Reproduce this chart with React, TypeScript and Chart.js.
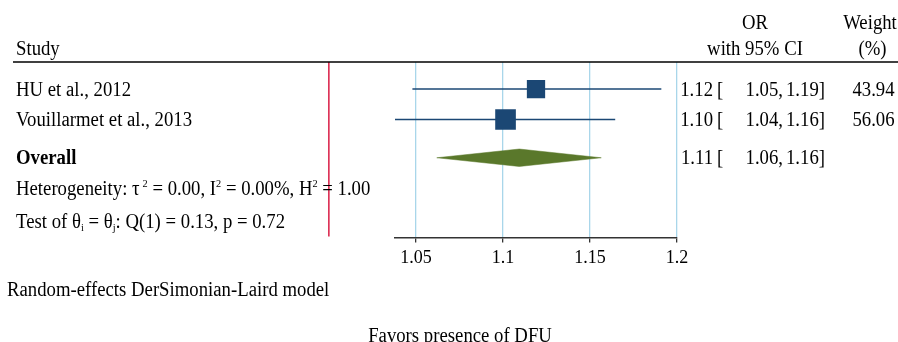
import React, { useEffect, useRef } from "react";
import { Chart, registerables } from "chart.js";

Chart.register(...registerables);

// ---------- data ----------
const studyLabels = ["HU et al., 2012", "Vouillarmet et al., 2013"];
const studyEstimates = [1.119, 1.1015];
const studyLower = [1.048, 1.038];
const studyUpper = [1.191, 1.1645];
const studyWeights = [43.94, 56.06];

const overallLabel = "Overall";
const overallEstimate = 1.1094;
const overallLower = 1.062;
const overallUpper = 1.1565;

const xTickValues = [1.05, 1.1, 1.15, 1.2];
const xAxisMin = 1.038;
const xAxisMax = 1.2;
const nullValue = 1;

const headerStudy = "Study";
const headerOR = ["OR", "with 95% CI"];
const headerWeight = ["Weight", "(%)"];
const modelNote = "Random-effects DerSimonian-Laird model";
const axisTitle = "Favors presence of DFU";

type Seg = { t: string; sup?: boolean; sub?: boolean; gap?: number };
const heterogeneitySegments: Seg[] = [
  { t: "Heterogeneity: τ" },
  { t: "2", sup: true, gap: 3 },
  { t: " = 0.00, I" },
  { t: "2", sup: true },
  { t: " = 0.00%, H" },
  { t: "2", sup: true },
  { t: " = 1.00" },
];
const testSegments: Seg[] = [
  { t: "Test of θ" },
  { t: "i", sub: true },
  { t: " = θ" },
  { t: "j", sub: true },
  { t: ": Q(1) = 0.13, p = 0.72" },
];

// ---------- layout / style ----------
const studyRows = [1, 2];
const overallRow = 3.26;
const hetRow = 4.27;
const testRow = 5.36;
const yMin = 0.11;
const yMax = 5.88;
const diamondHalf = 0.287;

const NAVY = "#1b4774";
const GREEN = "#5a782b";
const RED = "#dc2a50";
const GRID = "#a9d6ea";
const FONT = "'Liberation Serif', 'Times New Roman', serif";
const FS = 20;
const SX = 0.937;

function drawText(
  ctx: CanvasRenderingContext2D,
  text: string,
  x: number,
  y: number,
  align: "left" | "right" | "center" = "left",
  bold = false,
  size = FS
) {
  ctx.font = `${bold ? "bold " : ""}${size}px ${FONT}`;
  const w = ctx.measureText(text).width * SX;
  let left = x;
  if (align === "right") left = x - w;
  else if (align === "center") left = x - w / 2;
  ctx.save();
  ctx.translate(left, y);
  ctx.scale(SX, 1);
  ctx.textAlign = "left";
  ctx.textBaseline = "alphabetic";
  ctx.fillText(text, 0, 0);
  ctx.restore();
  return w;
}

function drawRich(ctx: CanvasRenderingContext2D, segs: Seg[], x: number, y: number) {
  let cx = x;
  for (const s of segs) {
    cx += s.gap || 0;
    if (s.sup) cx += drawText(ctx, s.t, cx, y - 8.3, "left", false, 11);
    else if (s.sub) cx += drawText(ctx, s.t, cx, y + 2.5, "left", false, 11);
    else cx += drawText(ctx, s.t, cx, y, "left", false, FS);
  }
}

const forestPlugin = {
  id: "forestDecor",
  beforeDatasetsDraw(chart: any) {
    const { ctx, chartArea, scales } = chart;
    const x = scales.x;
    const nx = x.getPixelForValue(nullValue);
    ctx.save();
    ctx.strokeStyle = RED;
    ctx.lineWidth = 1.6;
    ctx.beginPath();
    ctx.moveTo(nx, chartArea.top);
    ctx.lineTo(nx, chartArea.bottom - 1);
    ctx.stroke();
    ctx.strokeStyle = "#000";
    ctx.lineWidth = 1.6;
    ctx.beginPath();
    ctx.moveTo(13, chartArea.top);
    ctx.lineTo(chart.width, chartArea.top);
    ctx.stroke();
    ctx.restore();
  },
  afterDraw(chart: any) {
    const { ctx, chartArea, scales } = chart;
    const y = scales.y;
    const base = (r: number) => y.getPixelForValue(r) + 6.7;
    const top = chartArea.top;
    ctx.save();
    ctx.fillStyle = "#000";
    // headers
    drawText(ctx, headerStudy, 16, top - 7);
    drawText(ctx, headerOR[0], 755, top - 33, "center");
    drawText(ctx, headerOR[1], 755, top - 7, "center");
    drawText(ctx, headerWeight[0], 870, top - 33, "center");
    drawText(ctx, headerWeight[1], 872.5, top - 7, "center");

    const orCols = (est: number, lo: number, hi: number, by: number) => {
      drawText(ctx, est.toFixed(2), 713, by, "right");
      drawText(ctx, "[", 717, by, "left");
      drawText(ctx, lo.toFixed(2) + ",", 783, by, "right");
      drawText(ctx, hi.toFixed(2) + "]", 825, by, "right");
    };

    studyLabels.forEach((lab, i) => {
      const by = base(studyRows[i]);
      drawText(ctx, lab, 16, by);
      orCols(studyEstimates[i], studyLower[i], studyUpper[i], by);
      drawText(ctx, studyWeights[i].toFixed(2), 873.5, by, "center");
    });

    const ob = base(overallRow);
    drawText(ctx, overallLabel, 16, ob, "left", true);
    orCols(overallEstimate, overallLower, overallUpper, ob);

    drawRich(ctx, heterogeneitySegments, 16, base(hetRow));
    drawRich(ctx, testSegments, 16, base(testRow));

    drawText(ctx, modelNote, 7, 296);
    drawText(ctx, axisTitle, 460, 341.5, "center");
    ctx.restore();
  },
};

export default function App() {
  const ref = useRef<HTMLCanvasElement | null>(null);

  useEffect(() => {
    if (!ref.current) return;
    const ciDatasets = studyLabels.map((_, i) => ({
      type: "line" as const,
      data: [
        { x: studyLower[i], y: studyRows[i] },
        { x: studyUpper[i], y: studyRows[i] },
      ],
      borderColor: NAVY,
      borderWidth: 1.6,
      pointRadius: 0,
      fill: false,
      order: 2,
    }));
    const squares = {
      type: "scatter" as const,
      data: studyEstimates.map((e, i) => ({ x: e, y: studyRows[i] })),
      pointStyle: "rect",
      pointRadius: studyWeights.map((w) => Math.sqrt(w) * 1.95),
      backgroundColor: NAVY,
      borderColor: NAVY,
      borderWidth: 0,
      order: 1,
    };
    const diamond = {
      type: "line" as const,
      data: [
        { x: overallLower, y: overallRow },
        { x: overallEstimate, y: overallRow - diamondHalf },
        { x: overallUpper, y: overallRow },
        { x: overallEstimate, y: overallRow + diamondHalf },
        { x: overallLower, y: overallRow },
      ],
      borderColor: GREEN,
      backgroundColor: GREEN,
      borderWidth: 0.5,
      pointRadius: 0,
      fill: "shape",
      tension: 0,
      order: 1,
    };

    const chart = new Chart(ref.current, {
      type: "scatter",
      data: { datasets: [...ciDatasets, squares, diamond] as any },
      options: {
        animation: false,
        responsive: false,
        devicePixelRatio: 1,
        layout: { padding: { left: 395, right: 221, top: 62, bottom: 68 } },
        plugins: { legend: { display: false }, tooltip: { enabled: false } },
        scales: {
          x: {
            type: "linear",
            min: xAxisMin,
            max: xAxisMax,
            afterBuildTicks: (scale: any) => {
              scale.ticks = xTickValues.map((v) => ({ value: v }));
            },
            grid: {
              color: GRID,
              lineWidth: 1.3,
              drawTicks: true,
              tickColor: "#333",
              tickLength: 5,
            },
            border: { display: true, color: "#333", width: 1.6 },
            ticks: {
              color: "#000",
              font: { family: FONT, size: 18 },
              padding: 5,
              autoSkip: false,
              maxRotation: 0,
              callback: (v: any) => String(Number(v)),
            },
          },
          y: {
            type: "linear",
            display: false,
            reverse: true,
            min: yMin,
            max: yMax,
          },
        },
      },
      plugins: [forestPlugin],
    });
    return () => chart.destroy();
  }, []);

  return (
    <div style={{ position: "fixed", left: 0, top: 0, width: 898, height: 342, background: "#fff" }}>
      <canvas ref={ref} width={898} height={342} style={{ width: 898, height: 342, display: "block" }} />
    </div>
  );
}
